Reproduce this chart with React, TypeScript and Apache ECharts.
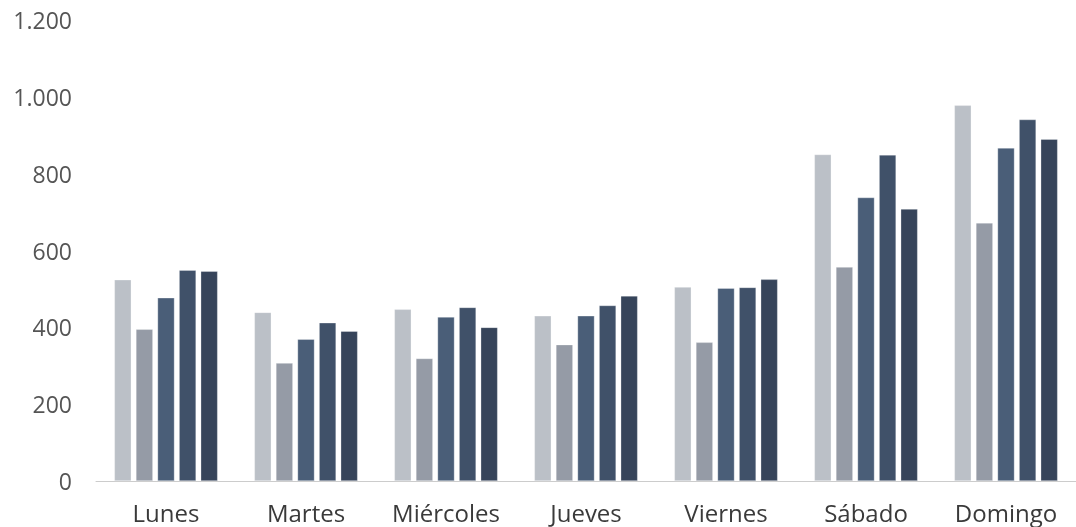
import React, { useEffect, useRef } from "react";
import * as echarts from "echarts";

const categories = ["Lunes", "Martes", "Miércoles", "Jueves", "Viernes", "Sábado", "Domingo"];
const serie1 = [524, 439, 447, 430, 505, 850, 978];
const serie2 = [395, 307, 319, 355, 361, 557, 672];
const serie3 = [477, 369, 427, 430, 502, 738, 867];
const serie4 = [549, 412, 452, 457, 504, 849, 941];
const serie5 = [546, 390, 400, 482, 525, 708, 890];
const seriesData = [serie1, serie2, serie3, serie4, serie5];
const colors = ["#BBC0C7", "#959BA6", "#4A5E78", "#405169", "#36445A"];

export default function App() {
  const ref = useRef<HTMLDivElement>(null);
  useEffect(() => {
    if (!ref.current) return;
    const chart = echarts.init(ref.current, undefined, { renderer: "svg" });
    chart.setOption({
      animation: false,
      textStyle: { fontFamily: "Open Sans" },
      grid: { left: 96, right: 0, top: 20, bottom: 46, containLabel: false },
      xAxis: {
        type: "category",
        data: categories,
        axisLine: { lineStyle: { color: "#cccccc", width: 1 } },
        axisTick: { show: false },
        axisLabel: { color: "#3a3a3a", fontSize: 24, margin: 19, interval: 0, fontFamily: "Open Sans" },
      },
      yAxis: {
        type: "value",
        min: 0,
        max: 1200,
        interval: 200,
        splitLine: { show: false },
        axisLine: { show: false },
        axisTick: { show: false },
        axisLabel: {
          color: "#555555",
          fontSize: 23,
          margin: 24,
          fontFamily: "Open Sans",
          formatter: (v: number) => v.toLocaleString("de-DE"),
        },
      },
      series: seriesData.map((d, i) => ({
        type: "bar",
        data: d,
        barWidth: 17,
        barGap: "27%",
        itemStyle: { color: colors[i], borderColor: "rgba(255,255,255,0.5)", borderWidth: 0.6 },
      })),
    });
    return () => chart.dispose();
  }, []);
  return (
    <div
      ref={ref}
      style={{ position: "fixed", left: 0, top: 0, width: 1076, height: 527 }}
    />
  );
}
